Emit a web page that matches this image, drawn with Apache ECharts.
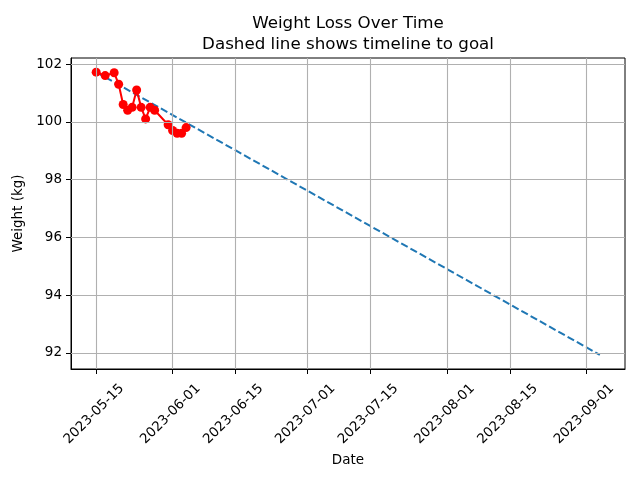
<!DOCTYPE html>
<html><head><meta charset="utf-8">
<script src="https://cdn.jsdelivr.net/npm/echarts@6/dist/echarts.min.js"></script>
<style>html,body{margin:0;padding:0;background:#fff}#c{width:640px;height:480px}</style>
</head><body><div id="c"></div>
<script>
const dates = ['2023-05-15','2023-05-17','2023-05-19','2023-05-20','2023-05-21','2023-05-22','2023-05-23','2023-05-24','2023-05-25','2023-05-26','2023-05-27','2023-05-28','2023-05-31','2023-06-01','2023-06-02','2023-06-03','2023-06-04'];
const weights = [101.72,101.6,101.7,101.3,100.6,100.4,100.5,101.1,100.5,100.1,100.5,100.4,99.9,99.7,99.6,99.6,99.8];
const goalDates = ['2023-05-15','2023-09-04'];
const goalValues = [101.72,91.93];
const xTickLabels = ['2023-05-15','2023-06-01','2023-06-15','2023-07-01','2023-07-15','2023-08-01','2023-08-15','2023-09-01'];
const yTicks = [92,94,96,98,100,102];

function ts(s){const p=s.split('-').map(Number);return Date.UTC(p[0],p[1]-1,p[2]);}
function fmt(v){const d=new Date(Math.round(v));const m=d.getUTCMonth()+1,dd=d.getUTCDate();return d.getUTCFullYear()+'-'+(m<10?'0':'')+m+'-'+(dd<10?'0':'')+dd;}

const xs = dates.map(ts).concat(goalDates.map(ts));
const ys = weights.concat(goalValues);
const xmin0=Math.min(...xs), xmax0=Math.max(...xs), ymin0=Math.min(...ys), ymax0=Math.max(...ys);
const xr=xmax0-xmin0, yr=ymax0-ymin0;
const xTickVals = xTickLabels.map(ts);

const font='DejaVu Sans';
const chart = echarts.init(document.getElementById('c'));
chart.setOption({
  animation:false,
  textStyle:{fontFamily:font},
  title:{text:'Weight Loss Over Time\nDashed line shows timeline to goal',left:343,top:8,textAlign:'center',
    textStyle:{fontFamily:font,fontSize:16.7,fontWeight:'normal',color:'#000',lineHeight:21}},
  grid:{left:71,right:15,top:58,bottom:111,show:true,borderColor:'#000',borderWidth:1,backgroundColor:'transparent'},
  xAxis:{type:'value',min:xmin0-0.05*xr,max:xmax0+0.05*xr,
    name:'Date',nameLocation:'middle',nameGap:82,nameTextStyle:{fontFamily:font,fontSize:13.5,color:'#000'},
    axisLine:{show:true,onZero:false,lineStyle:{color:'#000',width:1}},
    axisTick:{show:true,length:5,lineStyle:{color:'#000'},customValues:xTickVals},
    axisLabel:{rotate:45,align:'center',verticalAlign:'middle',margin:43,padding:[0,6,6,0],
      fontFamily:font,fontSize:13.5,color:'#000',customValues:xTickVals,formatter:function(v){return fmt(v);}},
    splitLine:{show:false}},
  yAxis:{type:'value',min:ymin0-0.05*yr,max:ymax0+0.05*yr,
    name:'Weight (kg)',nameLocation:'middle',nameGap:41,nameTextStyle:{fontFamily:font,fontSize:13.5,color:'#000'},
    axisLine:{show:true,onZero:false,lineStyle:{color:'#000',width:1}},
    axisTick:{show:true,length:5,lineStyle:{color:'#000'},customValues:yTicks},
    axisLabel:{margin:9,fontFamily:font,fontSize:13.5,color:'#000',customValues:yTicks,formatter:function(v){return String(Math.round(v));}},
    splitLine:{show:false}},
  series:[
    {type:'line',z:1,data:[],silent:true,
      markLine:{silent:true,symbol:'none',label:{show:false},animation:false,
        lineStyle:{color:'#b0b0b0',width:1.1,type:'solid'},
        data:xTickVals.map(v=>({xAxis:v})).concat(yTicks.map(v=>({yAxis:v})))}},
    {type:'line',z:2,data:goalDates.map((d,i)=>[ts(d),goalValues[i]]),showSymbol:false,symbol:'none',
      lineStyle:{color:'#1f77b4',width:2,type:[7.4,3.2]}},
    {type:'line',z:3,data:dates.map((d,i)=>[ts(d),weights[i]]),symbol:'circle',symbolSize:9,showSymbol:true,
      itemStyle:{color:'#ff0000'},lineStyle:{color:'#ff0000',width:2}}
  ]
});
</script></body></html>
